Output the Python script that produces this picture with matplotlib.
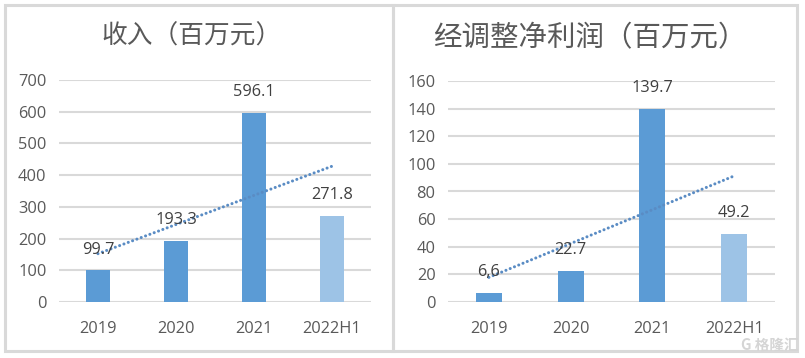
import matplotlib
matplotlib.use('Agg')
import matplotlib.pyplot as plt
import numpy as np
from matplotlib.patches import Rectangle

categories = ['2019', '2020', '2021', '2022H1']
revenue = [99.7, 193.3, 596.1, 271.8]
adj_profit = [6.6, 22.7, 139.7, 49.2]
revenue_labels = ['99.7', '193.3', '596.1', '271.8']
profit_labels = ['6,6', '22.7', '139.7', '49.2']
revenue_ticks = [0, 100, 200, 300, 400, 500, 600, 700]
profit_ticks = [0, 20, 40, 60, 80, 100, 120, 140, 160]
titles = ['收入（百万元）', '经调整净利润（百万元）']

W, H = 805, 358
fig = plt.figure(figsize=(W / 100, H / 100), dpi=100)
fig.patch.set_facecolor('white')

NUM_FONT = ['Open Sans', 'DejaVu Sans']
CJK_FONT = ['Noto Sans CJK SC', 'DejaVu Sans']
TXT = '#595959'
GRID = '#D9D9D9'
BAR = '#5B9BD5'
BAR_LIGHT = '#9DC3E6'


def px_rect(x0, y0, x1, y1):
    return [x0 / W, 1 - y1 / H, (x1 - x0) / W, (y1 - y0) / H]


# panel borders
for (x0, x1) in [(5, 393), (393, 797)]:
    r = px_rect(x0, 5, x1, 351)
    fig.add_artist(Rectangle((r[0], r[1]), r[2], r[3], transform=fig.transFigure,
                             fill=False, ec=GRID, lw=2.2))


def draw(ax_rect, values, labels, ticks, title, title_xy, title_size):
    ax = fig.add_axes(px_rect(*ax_rect))
    x = np.arange(len(categories))
    colors = [BAR] * (len(categories) - 1) + [BAR_LIGHT]
    ax.bar(x, values, width=0.32, color=colors, zorder=2)
    # linear trendline
    k, b = np.polyfit(x + 1, values, 1)
    ax.plot(x, k * (x + 1) + b, linestyle=(0, (0.01, 1.5)), color='#5A8CC4',
            lw=2.2, dash_capstyle='round', solid_capstyle='round', zorder=3)
    for xi, v, lab in zip(x, values, labels):
        ax.annotate(lab, (xi, v), xytext=(0, 15), textcoords='offset points',
                    ha='center', va='center', fontsize=11.8, color='#404040',
                    family=NUM_FONT, zorder=4)
    ax.set_xlim(-0.5, len(categories) - 0.5)
    ax.set_ylim(ticks[0], ticks[-1])
    ax.set_yticks(ticks)
    ax.set_yticklabels([str(t) for t in ticks], family=NUM_FONT, fontsize=11.8, color=TXT)
    ax.set_xticks(x)
    ax.set_xticklabels(categories, family=NUM_FONT, fontsize=11.8, color=TXT)
    ax.tick_params(length=0)
    ax.tick_params(axis='x', pad=14)
    ax.tick_params(axis='y', pad=9)
    for s in ax.spines.values():
        s.set_visible(False)
    ax.yaxis.grid(True, color=GRID, lw=1.5, zorder=0)
    ax.set_axisbelow(True)
    fig.text(title_xy[0] / W, 1 - title_xy[1] / H, title, ha='center', va='center',
             fontsize=title_size, color=TXT, family=CJK_FONT, fontweight='light')
    return ax


draw((59, 80, 371, 302), revenue, revenue_labels, revenue_ticks, titles[0], (192, 37), 18.5)
draw((448, 81, 775, 302), adj_profit, profit_labels, profit_ticks, titles[1], (590, 38), 20.5)

# watermark
fig.text(799 / W, 1 - 345 / H, 'G 格隆汇', ha='right', va='center', fontsize=10.5,
         color='#D5D5D5', family=CJK_FONT, fontweight='bold')

fig.savefig('out.png', dpi=100, facecolor='white')
